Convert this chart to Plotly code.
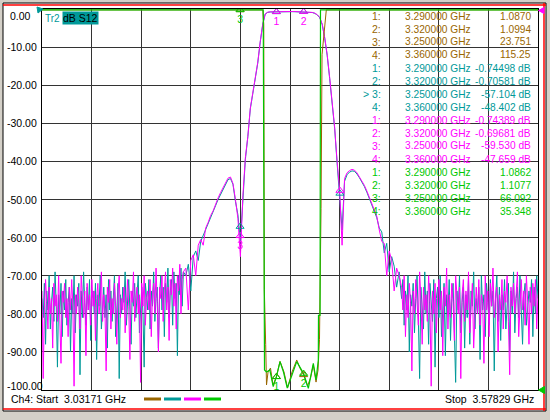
import numpy as np
import plotly.graph_objects as go

# sweep
START_GHZ = 3.03171
STOP_GHZ = 3.57829
GRID_POINTS = 201          # filter section is read on this grid
BAND_FIRST, BAND_LAST = 58, 144

# S21 (magenta), dB: noise below the filter skirt (finer read), filter, noise above
S21_NOISE_LO = [
    -74, -97, -79, -71, -77, -84, -73, -80, -76, -89,
    -72, -78, -75, -82, -70, -79, -93, -74, -77, -72,
    -81, -76, -86, -73, -79, -71, -78, -99, -75, -80,
    -73, -77, -84, -70, -76, -81, -74, -91, -72, -79,
    -75, -83, -71, -78, -74, -87, -76, -72, -80, -77,
    -69, -82, -75, -79, -95, -73, -77, -71, -84, -76,
    -80, -72, -78, -88, -74, -70, -81, -76, -79, -73,
    -85, -75, -71, -78, -92, -74, -77, -69, -82, -76,
    -73, -80, -75, -98, -72, -78, -70, -83, -76, -74,
    -79, -71, -86, -75, -72, -80, -68, -77, -90, -73,
    -76, -70, -82, -74, -69, -79, -73, -87, -71, -75,
    -68, -78, -72, -84, -70, -74, -67, -80, -71, -69,
]
S21_BAND = [
    -68, -79, -66, -64.5, -70, -62, -60.5, -62, -57.5, -56,
    -54.2, -53, -51.2, -49.6, -48.2, -46.8, -45.4, -44.4, -44.1, -45.8,
    -50, -55, -65, -49, -39, -33.5, -26, -22, -18, -14,
    -8.5, -4, -1.3, -0.85, -0.75, -0.72, -0.74, -0.74, -0.72, -0.70,
    -0.68, -0.66, -0.65, -0.66, -0.68, -0.70, -0.70, -0.70, -0.72, -0.75,
    -0.8, -0.9, -1.1, -1.5, -2.2, -4, -7.5, -12, -18, -24,
    -31, -40, -47.5, -62, -44.5, -43, -42.4, -42.1, -42.3, -43,
    -44, -45, -46.3, -47.8, -49.4, -51, -52.7, -54.4, -58, -61,
    -61.5, -70, -63.5, -66, -74, -68, -70,
]
S21_NOISE_HI = [
    -73, -79, -70, -86, -75, -81, -72, -77, -95, -74,
    -80, -71, -78, -83, -69, -76, -88, -73, -79, -75,
    -82, -70, -77, -99, -74, -80, -72, -85, -76, -71,
    -79, -74, -91, -73, -78, -68, -84, -75, -81, -72,
    -77, -87, -70, -76, -80, -73, -97, -75, -71, -82,
    -74, -79, -69, -85, -76, -72, -89, -78, -73, -80,
    -71, -83, -75, -77, -93, -70, -79, -74, -86, -72,
    -78, -68, -81, -76, -73, -90, -75, -79, -71, -84,
    -74, -77, -70, -82, -96, -73, -78, -72, -80, -75,
    -69, -86, -76, -71, -79, -74, -83, -70, -77, -88,
    -73, -80, -72, -78, -71, -84, -75,
]

# S12 (teal), dB
S12_NOISE_LO = [
    -76, -81, -72, -88, -74, -79, -70, -84, -77, -73,
    -82, -69, -78, -94, -75, -80, -72, -86, -74, -79,
    -71, -83, -77, -73, -90, -76, -80, -70, -85, -75,
    -78, -72, -96, -74, -81, -69, -77, -83, -73, -79,
    -71, -87, -76, -74, -80, -72, -92, -75, -78, -70,
    -84, -77, -73, -81, -75, -89, -71, -79, -74, -82,
    -76, -70, -86, -78, -72, -97, -75, -80, -73, -77,
    -69, -83, -76, -71, -79, -88, -74, -78, -72, -81,
    -75, -70, -85, -77, -73, -80, -94, -72, -76, -79,
    -71, -84, -74, -78, -69, -82, -76, -73, -89, -75,
    -70, -79, -73, -86, -72, -77, -68, -81, -74, -71,
    -83, -69, -76, -72, -91, -70, -75, -68, -78, -69,
]
S12_BAND = [
    -70, -67, -74, -65, -63.5, -66, -61, -59.5, -58, -56.5,
    -54.6, -53.3, -51.6, -50, -48.6, -47.2, -45.8, -44.8, -44.5, -46,
    -50.5, -54, -61, -49.5, -39.5, -33.5, -26.2, -22.2, -18.2, -14.2,
    -8.7, -4.1, -1.35, -0.88, -0.78, -0.75, -0.76, -0.75, -0.74, -0.72,
    -0.70, -0.69, -0.68, -0.70, -0.71, -0.72, -0.72, -0.73, -0.75, -0.78,
    -0.82, -0.93, -1.15, -1.55, -2.3, -4.1, -7.7, -12.2, -18.3, -24.3,
    -31.3, -40.5, -48.2, -58, -45.2, -43.5, -42.8, -42.5, -42.6, -43.3,
    -44.3, -45.3, -46.6, -48.1, -49.7, -51.3, -53, -54.8, -57.5, -58.5,
    -64, -61.5, -69, -65, -67.5, -73, -69,
]
S12_NOISE_HI = [
    -76, -71, -83, -74, -79, -70, -90, -75, -78, -72,
    -85, -76, -70, -81, -97, -73, -78, -84, -69, -80,
    -74, -88, -72, -77, -82, -71, -94, -76, -73, -81,
    -70, -86, -78, -72, -91, -75, -80, -71, -87, -76,
    -72, -83, -98, -74, -79, -70, -85, -77, -73, -89,
    -75, -81, -71, -88, -74, -78, -69, -84, -76, -80,
    -73, -92, -70, -79, -75, -86, -72, -77, -83, -71,
    -78, -74, -95, -76, -70, -82, -73, -87, -75, -79,
    -71, -84, -77, -72, -90, -74, -80, -69, -85, -76,
    -73, -81, -70, -78, -88, -75, -72, -83, -79, -74,
    -77, -71, -86, -73, -80, -70, -76,
]

# SWR traces (brown S11, green S22), GHz / SWR
S11_FREQ = [3.0317, 3.1000, 3.1600, 3.2100, 3.2500, 3.2680, 3.2750, 3.2761, 3.2767,
            3.2782, 3.2791, 3.2808, 3.2835, 3.2863, 3.2900, 3.2940, 3.2984, 3.3023,
            3.3072, 3.3124, 3.3160, 3.3200, 3.3243, 3.3276, 3.3307, 3.3337, 3.3359,
            3.3375, 3.3392, 3.3403, 3.3450, 3.3600, 3.4000, 3.4700, 3.5783]
S11_SWR = [310, 280, 190, 60, 23.751, 8.5, 4.2, 3.4, 1.66,
           1.30, 1.033, 1.118, 1.144, 1.033, 1.087, 1.188, 1.118, 1.013,
           1.118, 1.197, 1.144, 1.0994, 1.026, 1.079, 1.164, 1.052, 1.131,
           1.33, 2.19, 3.2, 12, 115.25, 260, 300, 320]
S22_FREQ = [3.0317, 3.1000, 3.1700, 3.2200, 3.2500, 3.2700, 3.2755, 3.2769, 3.2791,
            3.2828, 3.2865, 3.2900, 3.2940, 3.2978, 3.3020, 3.3072, 3.3124, 3.3200,
            3.3252, 3.3307, 3.3337, 3.3362, 3.3364, 3.3381, 3.3386, 3.3450, 3.3600,
            3.4000, 3.4700, 3.5783]
S22_SWR = [290, 250, 160, 90, 66.092, 14, 4.5, 1.131, 1.118,
           1.131, 1.022, 1.0862, 1.186, 1.118, 1.013, 1.098, 1.186, 1.1077,
           1.011, 1.175, 1.066, 1.197, 1.49, 1.49, 5.0, 18, 35.348,
           120, 240, 280]

# markers
MARKER_FREQ = [3.29, 3.32, 3.25, 3.36]
MK_S11 = [1.0870, 1.0994, 23.751, 115.25]
MK_S12 = [-0.74498, -0.70581, -57.104, -48.402]
MK_S21 = [-0.74389, -0.69681, -59.530, -47.659]
MK_S22 = [1.0862, 1.1077, 66.092, 35.348]

Y_TICKS = [0, -10, -20, -30, -40, -50, -60, -70, -80, -90, -100]
SWR_RANGE = [1.0, 3.5]

BROWN = "#996600"
TEAL = "#009999"
MAGENTA = "#ff00ff"
GREEN = "#00c800"
FONT = "Liberation Sans, Arial, sans-serif"
FS = 10.5

step = (STOP_GHZ - START_GHZ) / (GRID_POINTS - 1)
assert len(S21_BAND) == len(S12_BAND) == BAND_LAST - BAND_FIRST + 1

def sweep(lo, band, hi):
    f_lo = np.linspace(START_GHZ, START_GHZ + (BAND_FIRST - 1) * step, len(lo))
    f_band = START_GHZ + np.arange(BAND_FIRST, BAND_LAST + 1) * step
    f_hi = np.linspace(START_GHZ + (BAND_LAST + 1) * step, STOP_GHZ, len(hi))
    return np.concatenate([f_lo, f_band, f_hi]), np.array(lo + band + hi, dtype=float)

f21, s21 = sweep(S21_NOISE_LO, S21_BAND, S21_NOISE_HI)
f12, s12 = sweep(S12_NOISE_LO, S12_BAND, S12_NOISE_HI)

# the analyzer pins off-scale SWR to the top line
swr_top = SWR_RANGE[1] - 0.006
def pin(v):
    return np.minimum(np.array(v, dtype=float), swr_top)

# pixel -> paper helpers (plot area 42..538 x 9..390)
PL, PR, PT, PB = 42, 538, 9, 390
def px(x):
    return (x - PL) / (PR - PL)
def py(y):
    return (PB - y) / (PB - PT)

fig = go.Figure()

fig.add_trace(go.Scatter(x=S11_FREQ, y=pin(S11_SWR), yaxis="y2", mode="lines",
                         line=dict(color=BROWN, width=1), hoverinfo="skip"))
fig.add_trace(go.Scatter(x=f12, y=s12, mode="lines",
                         line=dict(color=TEAL, width=1), hoverinfo="skip"))
fig.add_trace(go.Scatter(x=f21, y=s21, mode="lines",
                         line=dict(color=MAGENTA, width=1), hoverinfo="skip"))
fig.add_trace(go.Scatter(x=S22_FREQ, y=pin(S22_SWR), yaxis="y2", mode="lines",
                         line=dict(color=GREEN, width=1.2), hoverinfo="skip"))

# marker triangles, with numbers only where they show on screen
def add_markers(idx, vals, color, swr, labels):
    xs = [MARKER_FREQ[i] for i in idx]
    ys = [vals[i] for i in idx]
    if swr:
        ys = list(pin(ys))
    fig.add_trace(go.Scatter(
        x=xs, y=ys, yaxis="y2" if swr else "y", mode="markers+text",
        marker=dict(symbol="triangle-up-open", size=7, color=color, line=dict(width=1, color=color)),
        text=labels, textposition="bottom center",
        textfont=dict(family=FONT, size=FS, color=color), hoverinfo="skip"))

add_markers([0, 1, 2], MK_S11, BROWN, True, ["", "", ""])
add_markers([0, 1, 2, 3], MK_S12, TEAL, False, ["", "", "", ""])
add_markers([0, 1, 2, 3], MK_S21, MAGENTA, False, ["1", "2", "3", ""])
add_markers([0, 1, 2], MK_S22, GREEN, True, ["1", "2", "3"])

shapes = []
# instrument window frame
shapes.append(dict(type="rect", xref="paper", yref="paper", layer="below",
                   x0=px(3), x1=px(546), y0=py(411), y1=py(3),
                   fillcolor="white", line=dict(color="black", width=1)))
for x0, y0, x1, y1 in [(3, 5, 546, 5), (544, 3, 544, 411), (3, 409, 546, 409)]:
    shapes.append(dict(type="line", xref="paper", yref="paper",
                       x0=px(x0), x1=px(x1), y0=py(y0), y1=py(y1),
                       line=dict(color="#ff0000", width=1.5)))

# reference-level flags
def tri(points, color):
    path = "M " + " L ".join(f"{px(a):.5f},{py(b):.5f}" for a, b in points) + " Z"
    return dict(type="path", xref="paper", yref="paper", path=path,
                fillcolor=color, line=dict(color=color, width=1))
shapes.append(tri([(37, 7), (43, 9), (38, 13)], TEAL))
shapes.append(tri([(538.5, 10.5), (544, 7.5), (544, 13.5)], MAGENTA))
shapes.append(tri([(538.5, 390), (544.5, 386.5), (544.5, 393.5)], GREEN))

# trace colour legend under the grid
for color, (a, b) in zip([BROWN, TEAL, MAGENTA, GREEN],
                         [(144, 161), (164, 181), (184, 201), (204, 221)]):
    shapes.append(dict(type="line", xref="paper", yref="paper",
                       x0=px(a), x1=px(b), y0=py(399), y1=py(399),
                       line=dict(color=color, width=3)))

ann = []
def text(x, y, s, color="black", anchor="left", size=FS, **kw):
    ann.append(dict(xref="paper", yref="paper", x=px(x), y=py(y), text=s,
                    showarrow=False, xanchor=anchor, yanchor="middle",
                    font=dict(family=FONT, size=size, color=color), **kw))

# y tick labels
for v in Y_TICKS:
    ypix = PT + (-v) / 100 * (PB - PT)
    if v == 0:
        text(8, ypix + 7, f"{v:.2f}")
    elif v == -100:
        text(5, ypix - 4, f"{v:.2f}")
    else:
        text(5, ypix, f"{v:.2f}")

# trace title
text(42.5, 18.5, "Tr2", TEAL, size=10)
text(61.5, 18.5, "dB S12", "black", bgcolor=TEAL, borderpad=0)

# marker table
rows = [(BROWN, MK_S11, ""), (TEAL, MK_S12, " dB"), (MAGENTA, MK_S21, " dB"), (GREEN, MK_S22, "")]
k = 0
for color, vals, unit in rows:
    for i in range(4):
        y = 16 + 13 * k
        label = f"{i + 1}:"
        if color == TEAL and i == 2:
            label = "> 3:"
        text(383, y, label, color, anchor="right")
        text(403, y, f"{MARKER_FREQ[i]:.6f} GHz", color, size=10.2)
        text(533, y, f"{vals[i]:#.5g}{unit}", color, anchor="right", size=10.2)
        k += 1

# sweep info
text(9, 399, f"Ch4: Start\u00a0 {START_GHZ:.5f} GHz")
text(536, 399, f"Stop\u00a0 {STOP_GHZ:.5f} GHz", anchor="right")

axis_common = dict(showgrid=True, gridcolor="#333333", gridwidth=1, zeroline=False,
                   showticklabels=False, ticks="", showline=True, linecolor="black",
                   linewidth=1, mirror=True)

fig.update_layout(
    width=550, height=420, autosize=False,
    margin=dict(l=PL, r=550 - PR, t=PT, b=420 - PB),
    paper_bgcolor="#d4d0c8", plot_bgcolor="white",
    showlegend=False,
    xaxis=dict(range=[START_GHZ, STOP_GHZ], tick0=START_GHZ,
               dtick=(STOP_GHZ - START_GHZ) / 10, **axis_common),
    yaxis=dict(range=[-100, 0], tick0=0, dtick=10, **axis_common),
    yaxis2=dict(range=SWR_RANGE, overlaying="y", visible=False),
    shapes=shapes,
    annotations=ann,
)

fig.write_html("out.html", config={"displayModeBar": False},
               post_script="document.body.style.margin='0';")
